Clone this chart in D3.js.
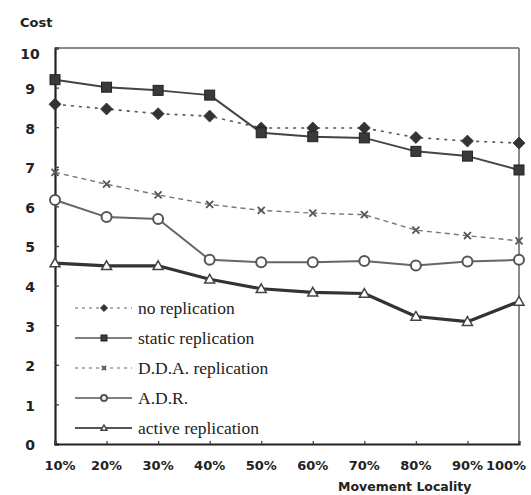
<!DOCTYPE html>
<html>
<head>
<meta charset="utf-8">
<script src="https://cdn.jsdelivr.net/npm/d3@7/dist/d3.min.js"></script>
<style>
  html, body { margin: 0; padding: 0; background: #fff; }
  svg { display: block; }
</style>
</head>
<body>
<svg id="chart" width="531" height="495"></svg>
<script>
// ---- data ----
const categories = ["10%", "20%", "30%", "40%", "50%", "60%", "70%", "80%", "90%", "100%"];
const yTicks = [0, 1, 2, 3, 4, 5, 6, 7, 8, 9, 10];
const noReplication     = [8.58, 8.46, 8.34, 8.28, 7.98, 7.98, 7.98, 7.74, 7.65, 7.60];
const staticReplication = [9.20, 9.01, 8.93, 8.81, 7.86, 7.76, 7.73, 7.39, 7.27, 6.92];
const ddaReplication    = [6.86, 6.56, 6.29, 6.05, 5.90, 5.83, 5.79, 5.40, 5.26, 5.13];
const adr               = [6.16, 5.73, 5.68, 4.65, 4.59, 4.59, 4.62, 4.51, 4.61, 4.65];
const activeReplication = [4.57, 4.50, 4.50, 4.16, 3.92, 3.83, 3.80, 3.22, 3.09, 3.60];
const seriesNames = ["no replication", "static replication", "D.D.A. replication", "A.D.R.", "active replication"];

const series = [
  { name: seriesNames[0], values: noReplication,     stroke: "#555", width: 1.6, dash: "3,5", marker: "diamond" },
  { name: seriesNames[1], values: staticReplication, stroke: "#444", width: 2,   dash: null,  marker: "square" },
  { name: seriesNames[2], values: ddaReplication,    stroke: "#777", width: 1.4, dash: "5,4", marker: "x" },
  { name: seriesNames[3], values: adr,               stroke: "#666", width: 2,   dash: null,  marker: "circle" },
  { name: seriesNames[4], values: activeReplication, stroke: "#333", width: 3.2, dash: null,  marker: "triangle" }
];

// ---- layout ----
const svg = d3.select("#chart");
const L = 55, R = 519, T = 48, B = 444;

const x = d3.scalePoint().domain(categories).range([L, R]);
const y = d3.scaleLinear().domain([0, 10]).range([B, T]);

// frame (top/right light)
svg.append("line").attr("x1", L).attr("x2", R).attr("y1", T).attr("y2", T)
  .attr("stroke", "#8a8a8a").attr("stroke-width", 2);
svg.append("line").attr("x1", R).attr("x2", R).attr("y1", T).attr("y2", B)
  .attr("stroke", "#8a8a8a").attr("stroke-width", 2);

// y axis
const yAxis = d3.axisRight(y).tickValues(yTicks).tickSize(4).tickFormat("");
const gy = svg.append("g").attr("transform", `translate(${L},0)`).call(yAxis);
gy.select(".domain").attr("stroke", "#222").attr("stroke-width", 2.2);
gy.selectAll(".tick line").attr("stroke", "#444").attr("stroke-width", 1.3);

svg.append("g").selectAll("text").data(yTicks).join("text")
  .attr("x", 30).attr("y", d => y(d)).attr("dy", d => (d === 10 ? "0.75em" : "0.45em"))
  .attr("text-anchor", "middle")
  .attr("font-family", "DejaVu Sans, sans-serif").attr("font-weight", "bold")
  .attr("font-size", 14).attr("fill", "#222")
  .text(d => d);

// x axis
const xAxis = d3.axisTop(x).tickSize(3).tickFormat("");
const gx = svg.append("g").attr("transform", `translate(0,${B})`).call(xAxis);
gx.select(".domain").attr("stroke", "#222").attr("stroke-width", 2.2);
gx.selectAll(".tick line").attr("stroke", "#444").attr("stroke-width", 1.3);

svg.append("g").selectAll("text").data(categories).join("text")
  .attr("x", (d, i) => x(d) + (i === 0 ? 5 : i === categories.length - 1 ? -13 : 0))
  .attr("y", 470)
  .attr("text-anchor", "middle")
  .attr("font-family", "DejaVu Sans, sans-serif").attr("font-weight", "bold")
  .attr("font-size", 13).attr("fill", "#222")
  .text(d => d);

// axis titles
svg.append("text").attr("x", 20).attr("y", 27)
  .attr("font-family", "DejaVu Sans, sans-serif").attr("font-weight", "bold")
  .attr("font-size", 13).attr("fill", "#222").text("Cost");
svg.append("text").attr("x", 338).attr("y", 491)
  .attr("font-family", "DejaVu Sans, sans-serif").attr("font-weight", "bold")
  .attr("font-size", 12.5).attr("fill", "#222").text("Movement Locality");

// markers
function drawMarker(g, type, cx, cy, scale) {
  const s = scale || 1;
  if (type === "diamond") {
    const r = 6 * s;
    g.append("path").attr("d", `M${cx},${cy - r}L${cx + r},${cy}L${cx},${cy + r}L${cx - r},${cy}Z`)
      .attr("fill", "#333").attr("stroke", "#333").attr("stroke-width", 0.8);
  } else if (type === "square") {
    const r = 5 * s;
    g.append("rect").attr("x", cx - r).attr("y", cy - r).attr("width", 2 * r).attr("height", 2 * r)
      .attr("fill", "#3a3a3a").attr("stroke", "#222").attr("stroke-width", 1);
  } else if (type === "x") {
    const r = 3.5 * s;
    g.append("path").attr("d", `M${cx - r},${cy - r}L${cx + r},${cy + r}M${cx - r},${cy + r}L${cx + r},${cy - r}`)
      .attr("stroke", "#555").attr("stroke-width", 1.8).attr("fill", "none");
  } else if (type === "circle") {
    g.append("circle").attr("cx", cx).attr("cy", cy).attr("r", 5 * s)
      .attr("fill", "#fff").attr("stroke", "#555").attr("stroke-width", 2);
  } else if (type === "triangle") {
    const r = 5 * s;
    g.append("path").attr("d", `M${cx},${cy - r}L${cx + r},${cy + r * 0.75}L${cx - r},${cy + r * 0.75}Z`)
      .attr("fill", "#fff").attr("stroke", "#444").attr("stroke-width", 1.5);
  }
}

const line = d3.line().x((d, i) => x(categories[i])).y(d => y(d));

series.forEach(s => {
  const g = svg.append("g");
  g.append("path").datum(s.values).attr("d", line)
    .attr("fill", "none").attr("stroke", s.stroke).attr("stroke-width", s.width)
    .attr("stroke-dasharray", s.dash).attr("stroke-linejoin", "round");
  s.values.forEach((v, i) => drawMarker(g, s.marker, x(categories[i]), y(v), 1));
});

// legend
const legend = svg.append("g");
series.forEach((s, i) => {
  const ly = 308 + i * 30;
  legend.append("line").attr("x1", 75).attr("x2", 132).attr("y1", ly).attr("y2", ly)
    .attr("stroke", i === 0 || i === 2 ? "#999" : "#555")
    .attr("stroke-width", i === 4 ? 2.2 : 1.6)
    .attr("stroke-dasharray", s.dash ? "3,4" : null);
  drawMarker(legend, s.marker, 104, ly, 0.6);
  legend.append("text").attr("x", 138).attr("y", ly).attr("dy", "0.32em")
    .attr("font-family", "Liberation Serif, Times New Roman, serif")
    .attr("font-size", 17.5).attr("fill", "#222").text(s.name);
});
</script>
</body>
</html>
